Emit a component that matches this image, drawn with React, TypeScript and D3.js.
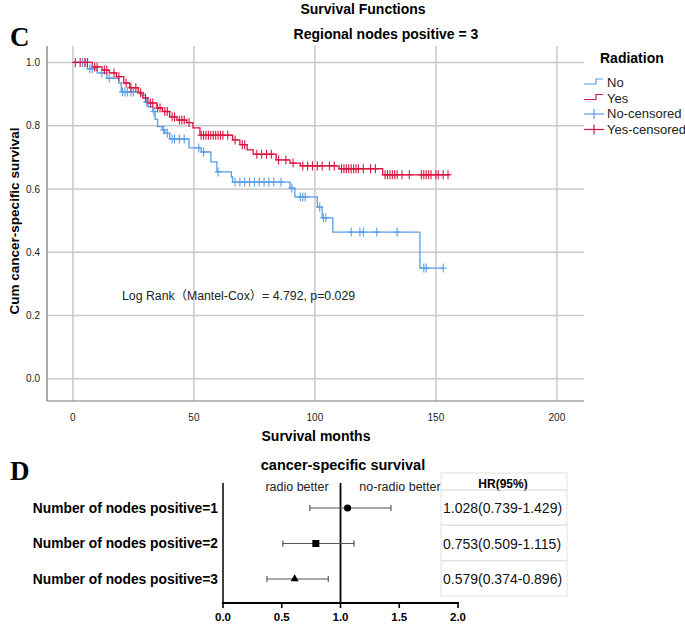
import * as d3 from "d3";

// Kaplan-Meier steps: [month, survival after event]
const noSteps: [number, number][] = [
  [0, 1.0], [6, 0.98], [10, 0.967], [14, 0.95], [19, 0.935], [20, 0.907],
  [28, 0.897], [30, 0.875], [31, 0.86], [33, 0.845], [34, 0.82], [35, 0.797],
  [37, 0.787], [38, 0.776], [40, 0.758], [48, 0.73], [53, 0.717], [57, 0.686],
  [59.5, 0.654], [65.5, 0.638], [66, 0.622], [89.7, 0.603], [91.7, 0.575],
  [101, 0.543], [103, 0.509], [107.4, 0.464], [143.4, 0.35],
];
const noEnd = 153;
const noCensored = [
  4, 5, 7, 8, 12, 15, 20.5, 21.5, 22.5, 24, 25, 30.5, 33.5, 37.5, 39, 41, 42,
  44, 46, 52, 54, 60, 67, 69, 71, 73, 75, 77, 79, 81, 83, 86, 90.5, 94, 95,
  96, 102, 103.5, 104.5, 115, 118.6, 120, 125.6, 134, 145, 146, 153,
];

const yesSteps: [number, number][] = [
  [0, 1.0], [8, 0.986], [12, 0.976], [15, 0.967], [18, 0.955], [21, 0.935],
  [23.5, 0.92], [27, 0.904], [29, 0.888], [31, 0.872], [34.7, 0.856],
  [37, 0.845], [40, 0.828], [43, 0.818], [47, 0.81], [49.6, 0.793],
  [52.5, 0.77], [66, 0.755], [69, 0.74], [72, 0.724], [74.5, 0.71],
  [84, 0.692], [89.7, 0.682], [94, 0.673], [110, 0.664], [128, 0.645],
];
const yesEnd = 155.8;
const yesCensored = [
  1, 3, 5, 6, 9, 10, 13, 14, 17, 19, 22, 24, 26, 28, 30, 32, 33, 35, 36, 38,
  39, 41, 42, 44, 45, 46, 48, 53, 54, 55, 56, 57, 58, 59, 60, 61, 62, 64, 67,
  70, 71, 76, 78, 80, 82, 85, 88, 91, 95, 97, 99, 101, 103, 106, 108, 111,
  112, 113, 114, 115, 116, 117, 118, 120, 123, 125, 129, 130, 131, 132, 133,
  134, 136, 139, 144, 145, 146, 147, 148, 150, 151, 153, 155,
];

const xTicks = [0, 50, 100, 150, 200];
const yTicks = [0, 0.2, 0.4, 0.6, 0.8, 1.0];

const legendNames = ["No", "Yes", "No-censored", "Yes-censored"];

// forest plot
const forestLabels = [
  "Number of nodes positive=1",
  "Number of nodes positive=2",
  "Number of nodes positive=3",
];
const forestPoint = [1.06, 0.79, 0.61];
const forestLow = [0.739, 0.509, 0.374];
const forestHigh = [1.429, 1.115, 0.896];
const hrText = ["1.028(0.739-1.429)", "0.753(0.509-1.115)", "0.579(0.374-0.896)"];
const forestTicks = [0, 0.5, 1.0, 1.5, 2.0];

const BLUE = "#5a9de6";
const RED = "#d9163f";
const GRID = "#c9c9c9";
const SANS = "'Liberation Sans', Arial, 'Noto Sans CJK SC', sans-serif";

const survAt = (steps: [number, number][], t: number) => {
  let s = steps[0][1];
  for (const [time, v] of steps) if (time <= t) s = v;
  return s;
};

function KaplanMeier() {
  const x = d3.scaleLinear().domain([-10.7, 211.2]).range([47, 584]);
  const y = d3.scaleLinear().domain([-0.07, 1.052]).range([401, 46]);
  const [x0, x1] = x.range();
  const [yb, yt] = y.range();

  const line = d3
    .line<[number, number]>()
    .x((d) => x(d[0]))
    .y((d) => y(d[1]))
    .curve(d3.curveStepAfter);

  const curve = (steps: [number, number][], end: number) =>
    line([...steps, [end, steps[steps.length - 1][1]]]) ?? "";

  const censors = (times: number[], steps: [number, number][], color: string, key: string) =>
    times.map((t, i) => {
      const cx = x(t);
      const cy = y(survAt(steps, t));
      return (
        <g key={key + i} stroke={color} strokeWidth={1.1}>
          <line x1={cx} x2={cx} y1={cy - 4.5} y2={cy + 4.5} />
          <line x1={cx - 3.5} x2={cx + 3.5} y1={cy} y2={cy} />
        </g>
      );
    });

  return (
    <g fontFamily={SANS}>
      <text x={10} y={46} fontFamily="'Liberation Serif', 'Times New Roman', serif" fontWeight="bold" fontSize={27}>
        C
      </text>
      <text x={363} y={14} textAnchor="middle" fontWeight="bold" fontSize={14}>
        Survival Functions
      </text>
      <text x={386} y={39} textAnchor="middle" fontWeight="bold" fontSize={14}>
        Regional nodes positive = 3
      </text>

      {xTicks.map((t) => (
        <line key={"gx" + t} x1={x(t)} x2={x(t)} y1={yt} y2={yb} stroke={GRID} strokeWidth={1.5} />
      ))}
      {yTicks.map((t) => (
        <line key={"gy" + t} x1={x0} x2={x1} y1={y(t)} y2={y(t)} stroke={GRID} strokeWidth={1.5} />
      ))}
      <line x1={x0} x2={x0} y1={yt} y2={yb} stroke="#777" strokeWidth={1.2} />
      <line x1={x0} x2={x1} y1={yb} y2={yb} stroke="#777" strokeWidth={1.2} />

      {yTicks.map((t) => (
        <text key={"ty" + t} x={x0 - 7} y={y(t) + 3.5} textAnchor="end" fontSize={10} fill="#222">
          {t.toFixed(1)}
        </text>
      ))}
      {xTicks.map((t) => (
        <text key={"tx" + t} x={x(t)} y={yb + 20} textAnchor="middle" fontSize={10} fill="#222">
          {t}
        </text>
      ))}

      <path d={curve(noSteps, noEnd)} fill="none" stroke={BLUE} strokeWidth={1.3} />
      <path d={curve(yesSteps, yesEnd)} fill="none" stroke={RED} strokeWidth={1.3} />
      {censors(noCensored, noSteps, BLUE, "cn")}
      {censors(yesCensored, yesSteps, RED, "cy")}

      <text x={122} y={300} fontSize={12.3} fill="#222">
        Log Rank（Mantel-Cox）= 4.792, p=0.029
      </text>

      <text
        transform={`translate(19,221) rotate(-90)`}
        textAnchor="middle"
        fontWeight="bold"
        fontSize={13.5}
      >
        Cum cancer-specific survival
      </text>
      <text x={316} y={441} textAnchor="middle" fontWeight="bold" fontSize={14}>
        Survival months
      </text>

      {/* legend */}
      <text x={600} y={63} fontWeight="bold" fontSize={14}>
        Radiation
      </text>
      {legendNames.map((name, i) => {
        const ly = 83 + i * 15.5;
        const color = i % 2 === 0 ? BLUE : RED;
        return (
          <g key={name}>
            {i < 2 ? (
              <path
                d={`M584,${ly + 1}H596V${ly - 4}H603`}
                fill="none"
                stroke={color}
                strokeWidth={1.2}
              />
            ) : (
              <g stroke={color} strokeWidth={1.2}>
                <line x1={584} x2={604} y1={ly} y2={ly} />
                <line x1={594} x2={594} y1={ly - 5} y2={ly + 5} />
              </g>
            )}
            <text x={607} y={ly + 4} fontSize={13} fill="#222">
              {name}
            </text>
          </g>
        );
      })}
    </g>
  );
}

function Forest() {
  const x = d3.scaleLinear().domain([0, 2]).range([223, 458]);
  const y = d3.scalePoint<string>().domain(forestLabels).range([508, 579]);
  const axisY = 603;
  const top = 483;

  const marker = (i: number, cx: number, cy: number) => {
    if (i === 0) return <circle cx={cx} cy={cy} r={3.6} fill="#000" />;
    if (i === 1) return <rect x={cx - 3.5} y={cy - 3.5} width={7} height={7} fill="#000" />;
    const tri = d3.symbol(d3.symbolTriangle, 28)() ?? "";
    return <path d={tri} transform={`translate(${cx},${cy})`} fill="#000" />;
  };

  return (
    <g fontFamily={SANS}>
      <text x={10} y={480} fontFamily="'Liberation Serif', 'Times New Roman', serif" fontWeight="bold" fontSize={27}>
        D
      </text>
      <text x={343} y={470} textAnchor="middle" fontWeight="bold" fontSize={14.5}>
        cancer-specific survival
      </text>

      <text x={297} y={491} textAnchor="middle" fontSize={12.5} fill="#222">
        radio better
      </text>
      <text x={400} y={491} textAnchor="middle" fontSize={12.5} fill="#222">
        no-radio better
      </text>

      {/* table */}
      <rect x={441} y={473} width={126} height={17} fill="none" stroke="#e2e2e2" />
      <text x={503} y={488} textAnchor="middle" fontWeight="bold" fontSize={12}>
        HR(95%)
      </text>
      {hrText.map((t, i) => {
        const cy = y(forestLabels[i]) ?? 0;
        return (
          <g key={t}>
            <rect x={441} y={cy - 18} width={126} height={35} fill="none" stroke="#e2e2e2" />
            <text x={443} y={cy + 5} fontSize={14} fill="#111">
              {t}
            </text>
          </g>
        );
      })}

      <line x1={x(0)} x2={x(0)} y1={top} y2={axisY} stroke="#000" strokeWidth={1.5} />
      <line x1={x(1)} x2={x(1)} y1={top} y2={axisY} stroke="#000" strokeWidth={1.8} />
      <line x1={x(0) - 1} x2={x(2) + 1} y1={axisY} y2={axisY} stroke="#000" strokeWidth={2.2} />
      {forestTicks.map((t) => (
        <g key={t}>
          <line x1={x(t)} x2={x(t)} y1={axisY} y2={axisY + 5} stroke="#000" strokeWidth={1.6} />
          <text x={x(t)} y={axisY + 18} textAnchor="middle" fontWeight="bold" fontSize={11.5}>
            {t.toFixed(1)}
          </text>
        </g>
      ))}

      {forestLabels.map((label, i) => {
        const cy = y(label) ?? 0;
        const lo = x(forestLow[i]);
        const hi = x(forestHigh[i]);
        return (
          <g key={label}>
            <text x={218} y={cy + 4.5} textAnchor="end" fontWeight="bold" fontSize={13.8}>
              {label}
            </text>
            <g stroke="#555" strokeWidth={1.2}>
              <line x1={lo} x2={hi} y1={cy} y2={cy} />
              <line x1={lo} x2={lo} y1={cy - 3} y2={cy + 3} />
              <line x1={hi} x2={hi} y1={cy - 3} y2={cy + 3} />
            </g>
            {marker(i, x(forestPoint[i]), cy)}
          </g>
        );
      })}
    </g>
  );
}

export default function App() {
  return (
    <svg
      width={685}
      height={625}
      viewBox="0 0 685 625"
      style={{ position: "absolute", left: 0, top: 0, background: "#fff" }}
    >
      <rect width={685} height={625} fill="#fff" />
      <KaplanMeier />
      <Forest />
    </svg>
  );
}
